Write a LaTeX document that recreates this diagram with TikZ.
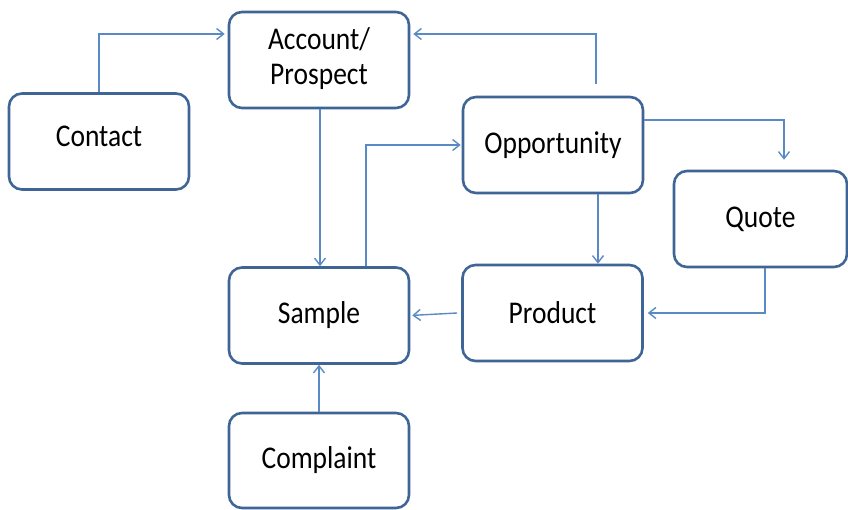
\documentclass[tikz,border=0pt]{standalone}
\usepackage{fontspec}
\usepackage{graphicx}
\setmainfont{Carlito}
\usetikzlibrary{arrows.meta}
\definecolor{boxblue}{HTML}{3F6496}
\definecolor{lineblue}{HTML}{5A8AC6}
\newcommand\stretchtext[1]{\scalebox{1}[1.15]{#1}}
\begin{document}
\begin{tikzpicture}[x=1pt,y=1pt,
  entity/.style={draw=boxblue, line width=2.6pt, rounded corners=13pt, fill=white,
    minimum width=180pt, minimum height=96pt, inner sep=0pt, align=center,
    font=\fontsize{27.5}{31}\selectfont},
  link/.style={draw=lineblue, line width=1.4pt, -{Straight Barb[length=7pt,width=11pt,line width=1.4pt]}}
]
\useasboundingbox (0,0) rectangle (848,510);
\node[entity] (contact) at (99,368.5) {\raisebox{10pt}{\stretchtext{Contact}}};
\node[entity] (account) at (319,450) {\raisebox{-4pt}{\stretchtext{\begin{tabular}{@{}c@{}}Account/\\Prospect\end{tabular}}}};
\node[entity] (opp) at (553,365) {\stretchtext{Opportunity}};
\node[entity, minimum width=173pt] (quote) at (760.5,291) {\stretchtext{Quote}};
\node[entity] (sample) at (319,194.5) {\raisebox{-2pt}{\stretchtext{Sample}}};
\node[entity] (product) at (552.5,197) {\stretchtext{Product}};
\node[entity, minimum height=95pt] (complaint) at (319,49.5) {\stretchtext{Complaint}};

\draw[link, shorten >=3pt] (contact.north) |- ([yshift=26pt]account.west);
\draw[link, shorten >=3pt] ([xshift=43pt,yshift=12pt]opp.north) |- ([yshift=26pt]account.east);
\draw[link] ([xshift=1pt]account.south) -- ([xshift=1pt]sample.north);
\draw[link, shorten >=1pt] ([xshift=47pt]sample.north) |- (opp.west);
\draw[link] ([yshift=25pt]opp.east) -| ([xshift=23.5pt,yshift=10pt]quote.north);
\draw[link] ([xshift=45pt]opp.south) -- ([xshift=45.5pt]product.north);
\draw[link, shorten >=4pt] ([xshift=4.5pt]quote.south) |- (product.east);
\draw[link, shorten >=2pt] ([xshift=-4pt]product.west) -- (sample.east);
\draw[link] (complaint.north) -- (sample.south);
\end{tikzpicture}
\end{document}
